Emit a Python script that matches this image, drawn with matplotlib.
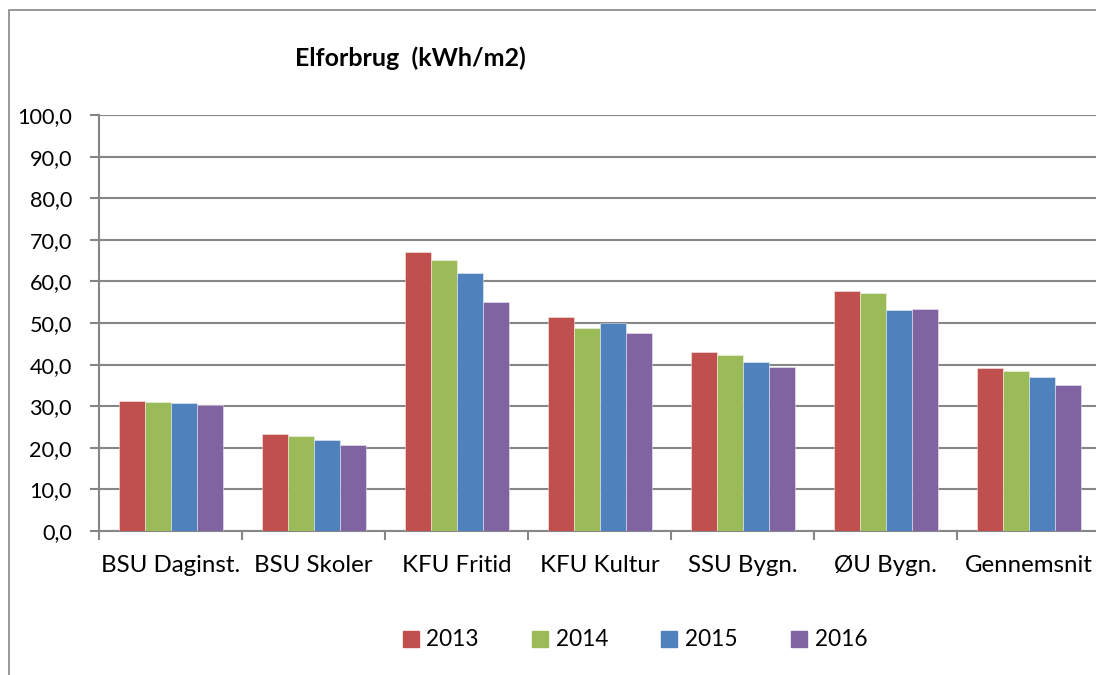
import matplotlib
matplotlib.use("Agg")
import matplotlib.pyplot as plt
from matplotlib.lines import Line2D
from matplotlib.patches import Rectangle
import numpy as np

categories = ["BSU Daginst.", "BSU Skoler", "KFU Fritid", "KFU Kultur", "SSU Bygn.", "ØU Bygn.", "Gennemsnit"]
years = ["2013", "2014", "2015", "2016"]
v2013 = [31.3, 23.4, 67.0, 51.5, 43.0, 57.6, 39.3]
v2014 = [31.0, 22.8, 65.1, 48.9, 42.3, 57.2, 38.4]
v2015 = [30.7, 21.8, 61.9, 49.9, 40.6, 53.1, 36.9]
v2016 = [30.4, 20.7, 55.0, 47.7, 39.4, 53.4, 35.0]
series = [v2013, v2014, v2015, v2016]
colors = ["#C0504D", "#9BBB59", "#4F81BD", "#8064A2"]
yticks = np.arange(0, 101, 10)

plt.rcParams['font.family'] = ['Lato', 'DejaVu Sans']

W, H = 1096, 675
fig = plt.figure(figsize=(W / 100, H / 100), dpi=100)

# chart border
fig.patches.append(Rectangle((9 / W, -0.01), 1.05, 1 - 10 / H + 0.01, transform=fig.transFigure,
                             fill=False, edgecolor="#878787", linewidth=1.2))

left, right, top, bottom = 99, 1100, 115, 531
ax = fig.add_axes([left / W, 1 - bottom / H, (right - left) / W, (bottom - top) / H])

n = len(categories)
x = np.arange(n)
bw = 1 / 5.5
for i, (vals, c) in enumerate(zip(series, colors)):
    ax.bar(x + (i - 1.5) * bw, vals, width=bw, color=c, edgecolor=(1, 1, 1, 0.5), linewidth=0.6, zorder=3)

ax.set_xlim(-0.5, n - 0.5)
ax.set_ylim(0, 100)
ax.set_yticks(yticks)
ax.set_yticklabels([f"{v:.1f}".replace(".", ",") for v in yticks], fontsize=15.6)
ax.yaxis.grid(True, color="#868686", linewidth=1.5, zorder=0)
ax.set_axisbelow(True)

ax.set_xticks(np.arange(-0.5, n, 1.0))
ax.set_xticklabels([])
ax.set_xticks(x, minor=True)
ax.set_xticklabels(categories, minor=True, fontsize=17.3)
ax.tick_params(axis="x", which="minor", length=0, pad=17)
ax.tick_params(axis="x", which="major", length=6.5, width=1.5, color="#868686", direction="out")
ax.tick_params(axis="y", length=6.5, width=1.5, color="#868686", direction="out", pad=13)

for s in ["top", "right"]:
    ax.spines[s].set_visible(False)
for s in ["left", "bottom"]:
    ax.spines[s].set_color("#868686")
    ax.spines[s].set_linewidth(1.5)

fig.text(410 / W, 1 - 58 / H, "Elforbrug  (kWh/m2)", ha="center", va="center",
         fontsize=18, fontweight="bold")

handles = [Line2D([], [], marker="s", linestyle="none", markersize=11, color=c) for c in colors]
fig.legend(handles, years, loc="center", bbox_to_anchor=(635 / W, 1 - 640 / H), ncol=4,
           frameon=False, fontsize=16.3, handletextpad=0.35, columnspacing=2.35, handlelength=0.7)

fig.savefig("out.png", dpi=100)
